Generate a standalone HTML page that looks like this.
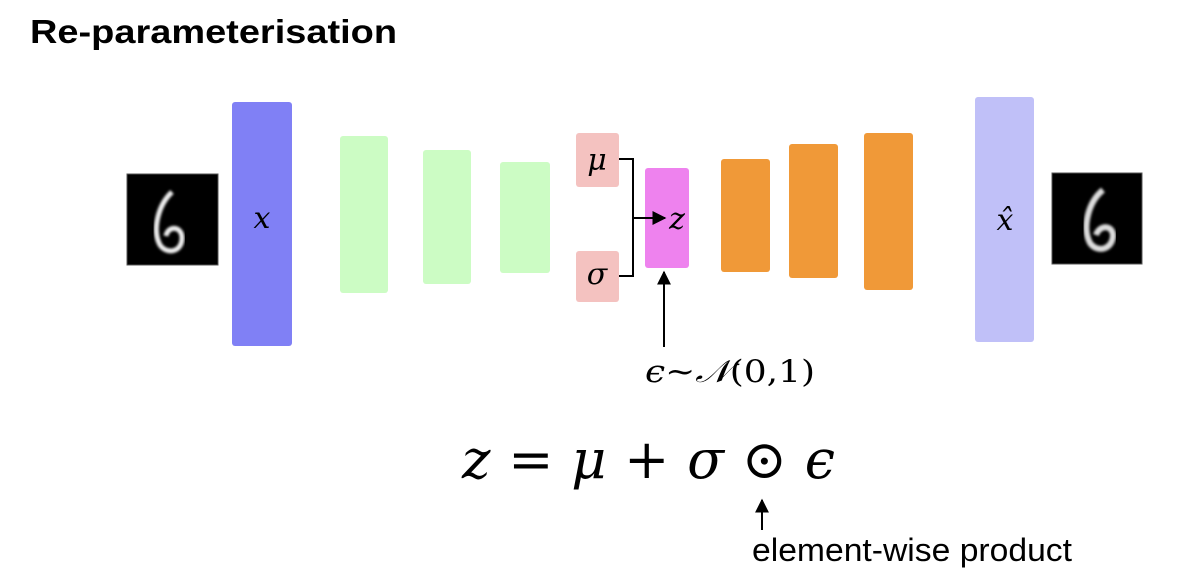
<!DOCTYPE html>
<html><head><meta charset="utf-8"><style>
html,body{margin:0;padding:0;background:#fff;}
body{width:1198px;height:580px;position:relative;overflow:hidden;font-family:"Liberation Sans",sans-serif;}
.m{font-family:"DejaVu Serif","Liberation Serif",serif;font-style:italic;}
</style></head><body>
<svg width="1198" height="580" viewBox="0 0 1198 580">
<defs>
<marker id="ah" viewBox="0 0 10 10" refX="9" refY="5" markerWidth="7" markerHeight="7" orient="auto"><path d="M0,0 L10,5 L0,10 z" fill="#000"/></marker>
<filter id="bl"><feGaussianBlur stdDeviation="1.3"/></filter>
</defs>
<text x="30" y="43" font-family="Liberation Sans" font-weight="bold" font-size="33" textLength="367" lengthAdjust="spacingAndGlyphs">Re-parameterisation</text>

<g>
<rect x="127" y="174" width="91" height="91" fill="#000" stroke="#555"/>
<path d="M172,192 C158,205 152,230 160,245 C167,255 182,252 182,238 C182,226 168,225 166,236" stroke="#eee" stroke-width="5" fill="none" filter="url(#bl)"/>
</g>
<rect x="232" y="102" width="60" height="244" rx="3" fill="#8080f5"/>
<text x="262" y="228" class="m" font-size="30" text-anchor="middle">x</text>

<rect x="340" y="136" width="48" height="157" rx="3" fill="#ccfcc4"/>
<rect x="423" y="150" width="48" height="134" rx="3" fill="#ccfcc4"/>
<rect x="500" y="162" width="50" height="111" rx="3" fill="#ccfcc4"/>

<rect x="576" y="133" width="43" height="54" rx="3" fill="#f4c2c0"/>
<text x="597" y="170" class="m" font-size="30" text-anchor="middle">μ</text>
<rect x="576" y="251" width="43" height="51" rx="3" fill="#f4c2c0"/>
<text x="597" y="284" class="m" font-size="30" text-anchor="middle">σ</text>

<rect x="645" y="168" width="44" height="100" rx="3" fill="#ee82ee"/>
<path d="M619,159 H633 V276 H619" stroke="#000" stroke-width="2" fill="none"/>
<line x1="633" y1="218" x2="665" y2="218" stroke="#000" stroke-width="2" marker-end="url(#ah)"/>
<text x="677" y="229" class="m" font-size="30" text-anchor="middle">z</text>
<line x1="664" y1="347" x2="664" y2="272" stroke="#000" stroke-width="2" marker-end="url(#ah)"/>
<text x="645" y="382" font-family="DejaVu Serif" font-size="31" textLength="170" lengthAdjust="spacingAndGlyphs"><tspan font-style="italic">ϵ</tspan>~<tspan font-style="italic">𝒩</tspan>(0,1)</text>

<rect x="721" y="159" width="49" height="113" rx="3" fill="#f09938"/>
<rect x="789" y="144" width="49" height="134" rx="3" fill="#f09938"/>
<rect x="864" y="133" width="49" height="157" rx="3" fill="#f09938"/>

<rect x="975" y="97" width="59" height="245" rx="3" fill="#c0c0f8"/>
<text x="1005" y="230" class="m" font-size="30" text-anchor="middle">x̂</text>
<g>
<rect x="1052" y="173" width="90" height="91" fill="#000" stroke="#555"/>
<path d="M1103,190 C1088,202 1082,228 1090,243 C1097,253 1112,250 1113,236 C1113,225 1100,224 1096,235" stroke="#ddd" stroke-width="6" fill="none" filter="url(#bl)"/>
</g>

<text x="462" y="478" class="m" font-size="54" textLength="373" lengthAdjust="spacing">z <tspan font-style="normal">=</tspan> μ <tspan font-style="normal">+</tspan> σ <tspan font-style="normal">⊙</tspan> ϵ</text>
<line x1="762" y1="530" x2="762" y2="500" stroke="#000" stroke-width="2" marker-end="url(#ah)"/>
<text x="752" y="561" font-family="Liberation Sans" font-size="32" textLength="320" lengthAdjust="spacingAndGlyphs">element-wise product</text>
</svg>
</body></html>
